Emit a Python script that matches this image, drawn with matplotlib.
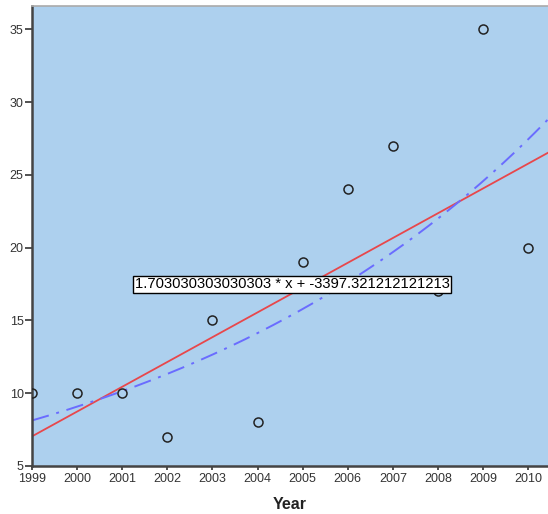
import numpy as np
import matplotlib.pyplot as plt

plt.rcParams['font.family'] = ['Liberation Sans', 'DejaVu Sans']

years = [1999, 2000, 2001, 2002, 2003, 2004, 2005, 2006, 2007, 2008, 2009, 2010]
values = [10, 10, 10, 7, 15, 8, 19, 24, 27, 17, 35, 20]
slope = 1.703030303030303
intercept = -3397.321212121213
fit_label = '1.703030303030303 * x + -3397.321212121213'
xticks = list(range(1999, 2011))
yticks = [5, 10, 15, 20, 25, 30, 35]

x = np.array(years, dtype=float)
y = np.array(values, dtype=float)

fig = plt.figure(figsize=(5.48, 5.14), dpi=100)
ax = fig.add_axes([32/548, 1-466/514, 1-32/548, (466-6)/514])
ax.set_facecolor('#add0ee')

xmin, xmax = 1999, 2010.44
xs = np.linspace(xmin, xmax, 200)

# linear fit from the printed equation
ax.plot(xs, slope*xs + intercept, color='#e8474b', lw=1.3, zorder=2)

# exponential fit
b, a = np.polyfit(x, np.log(y), 1)
ax.plot(xs, np.exp(a + b*xs), color='#6a6cff', lw=1.4,
        linestyle=(0, (9, 4, 1.5, 4)), zorder=2)

ax.plot(x, y, 'o', mfc='none', mec='#222222', mew=1.1, ms=6.5, zorder=3)

ax.text(2004.77, 17.47, fit_label, ha='center', va='center', fontsize=10.6,
        bbox=dict(boxstyle='square,pad=0.1', fc='white', ec='black', lw=1),
        zorder=4)

ax.set_xlim(xmin, xmax)
ax.set_ylim(5, 36.6)
ax.set_xticks(xticks)
ax.set_yticks(yticks)
ax.tick_params(axis='both', labelsize=9, colors='#333333', width=1.2)
ax.tick_params(axis='y', length=5, pad=1)
ax.tick_params(axis='x', length=3, pad=2)

for s in ['left', 'bottom']:
    ax.spines[s].set_color('#444444')
    ax.spines[s].set_linewidth(1.8)
ax.spines['top'].set_color('#aaaaaa')
ax.spines['top'].set_linewidth(1.2)
ax.spines['right'].set_visible(False)

ax.set_xlabel('Year', fontsize=11.5, fontweight='bold', color='#222222', labelpad=9)

plt.savefig('out.png', dpi=100)
